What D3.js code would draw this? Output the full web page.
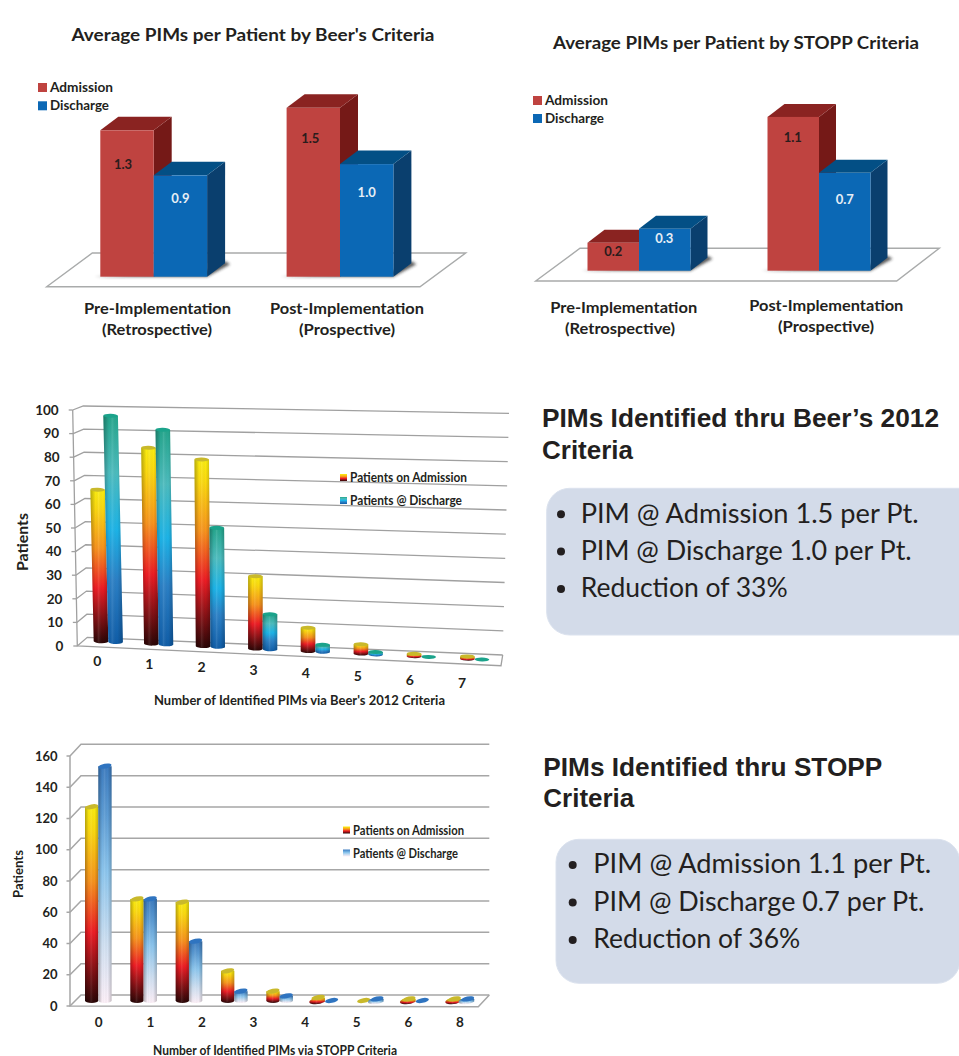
<!DOCTYPE html>
<html>
<head>
<meta charset="utf-8">
<script src="https://cdn.jsdelivr.net/npm/d3@7"></script>
<style>
html,body{margin:0;padding:0;background:#fff;overflow:hidden}
svg{display:block}
text{font-family:Lato,"Open Sans",sans-serif;fill:#231f20}
</style>
</head>
<body>
<svg id="c" width="959" height="1056"></svg>
<script>
// ---------- data ----------
const seriesNames = ["Admission", "Discharge"];
const periodLines = [["Pre-Implementation", "(Retrospective)"], ["Post-Implementation", "(Prospective)"]];

const beersAvgAdmission = [1.3, 1.5];
const beersAvgDischarge = [0.9, 1.0];
const stoppAvgAdmission = [0.2, 1.1];
const stoppAvgDischarge = [0.3, 0.7];

const beersCounts = ["0", "1", "2", "3", "4", "5", "6", "7"];
const beersAdmission = [65, 84, 80, 31, 10, 4, 1, 1];
const beersDischarge = [97, 92, 51, 15, 3, 1, 0, 0];
const beersTicks = [0, 10, 20, 30, 40, 50, 60, 70, 80, 90, 100];

const stoppGroups = [0, 1, 2, 3, 4, 5, 6, 7, 8];
const stoppAdmission = [124, 65, 63, 19, 6, 2, 0, 1, 1];
const stoppDischarge = [150, 65, 38, 6, 3, 0, 1, 0, 1];
const stoppTicks = [0, 20, 40, 60, 80, 100, 120, 140, 160];
const stoppLabels = ["0", "1", "2", "3", "4", "5", "6", "8"];

const panelBeers = ["PIM @ Admission 1.5 per Pt.", "PIM @ Discharge 1.0 per Pt.", "Reduction of 33%"];
const panelStopp = ["PIM @ Admission 1.1 per Pt.", "PIM @ Discharge 0.7 per Pt.", "Reduction of 36%"];

// ---------- helpers ----------
const svg = d3.select("#c");
const defs = svg.append("defs");
defs.append("filter").attr("id", "soft").attr("x", "-20%").attr("y", "-50%").attr("width", "140%").attr("height", "200%")
  .append("feGaussianBlur").attr("stdDeviation", 1.6);

function gradient(id, stops, horizontal) {
  const g = defs.append("linearGradient").attr("id", id)
    .attr("x1", 0).attr("y1", 0).attr("x2", horizontal ? 1 : 0).attr("y2", horizontal ? 0 : 1);
  stops.forEach(s => g.append("stop").attr("offset", s[0]).attr("stop-color", s[1]).attr("stop-opacity", s[2] === undefined ? 1 : s[2]));
}
gradient("fire", [[0, "#faed10"], [0.12, "#fbd90f"], [0.38, "#f7931d"], [0.64, "#ed1c24"], [0.82, "#8a1216"], [1, "#2a0606"]]);
gradient("teal", [[0, "#24a68c"], [0.25, "#4cbcbe"], [0.5, "#1cb4e8"], [0.72, "#2b80c6"], [1, "#0f5da8"]]);
gradient("sky", [[0, "#3d7cc0"], [0.2, "#5b9bd4"], [0.45, "#8cc6ee"], [0.75, "#cfe0f2"], [1, "#fdf0f8"]]);
gradient("round", [[0, "#000", 0.28], [0.3, "#000", 0], [0.45, "#fff", 0.1], [0.7, "#000", 0], [1, "#000", 0.22]], true);

function label(g, str, x, y, o) {
  o = o || {};
  const t = g.append("text").attr("x", x).attr("y", y).text(str)
    .attr("font-size", o.size || 12).attr("font-weight", o.weight || 700)
    .attr("text-anchor", o.anchor || "middle");
  if (o.central !== false) t.attr("dominant-baseline", "central");
  if (o.width) t.attr("textLength", o.width).attr("lengthAdjust", "spacingAndGlyphs");
  if (o.fill) t.style("fill", o.fill);
  if (o.family) t.style("font-family", o.family);
  if (o.rotate) t.attr("transform", `rotate(${o.rotate} ${x} ${y})`);
  return t;
}
const poly = pts => "M" + pts.map(p => p.join(",")).join("L") + "Z";

// ---------- flat 3-D column charts ----------
function blockChart(cfg) {
  const g = svg.append("g");
  label(g, cfg.title, cfg.titleX, cfg.titleY, {size: 16.5, width: cfg.titleW});
  const f = cfg.floor;
  g.append("path").attr("d", poly(f)).attr("fill", "#fff").attr("stroke", "#a9abab").attr("stroke-width", 1.4);

  const gx = d3.scalePoint().domain([0, 1]).range(cfg.groupX);
  const sx = d3.scaleBand().domain(seriesNames).range([-cfg.bar, cfg.bar]);
  const h = d3.scaleLinear().domain([0, 1]).range([0, cfg.unit]);
  const [dx, dy] = cfg.depth;

  [0, 1].forEach(i => {
    const x0 = gx(i) - cfg.bar, x1 = gx(i) + cfg.bar, b = cfg.base;
    g.append("path").attr("filter", "url(#soft)").attr("fill", "#222").attr("opacity", 0.75)
      .attr("d", poly([[x0 - 6, b], [x1, b], [x1 + dx + 5, b + dy + 1], [x1 + dx, b + dy - 2], [x1, b - 6]]));
  });

  [0, 1].forEach(i => {
    seriesNames.forEach((s, k) => {
      const v = cfg.values[k][i];
      const x = gx(i) + sx(s), w = sx.bandwidth(), top = cfg.base - h(v), base = cfg.base;
      const c = k ? {f: "#0b68b5", t: "#034f85", s: "#0a3f6e"} : {f: "#bf4340", t: "#8a2321", s: "#751917"};
      g.append("path").attr("fill", c.s).attr("d", poly([[x + w, top], [x + w + dx, top + dy], [x + w + dx, base + dy], [x + w, base]]));
      g.append("path").attr("fill", c.t).attr("d", poly([[x, top], [x + dx, top + dy], [x + w + dx, top + dy], [x + w, top]]));
      g.append("rect").attr("x", x).attr("y", top).attr("width", w).attr("height", h(v)).attr("fill", c.f);
      label(g, d3.format(".1f")(v), x + w / 2 + cfg.nudgeX[i][k], top + cfg.drop[i][k],
        {size: 13, fill: k ? "#e6eef6" : "#2a1c1c"});
    });
  });

  seriesNames.forEach((s, k) => {
    const [lx, ly] = cfg.legend;
    g.append("rect").attr("x", lx).attr("y", ly + k * cfg.legendStep).attr("width", 9).attr("height", 9)
      .attr("fill", k ? "#0b68b5" : "#bf4340");
    label(g, s, lx + 12, ly + 4.5 + k * cfg.legendStep, {anchor: "start", size: 12.5, width: k ? 59 : 63});
  });

  periodLines.forEach((lines, i) => lines.forEach((t, j) => {
    label(g, t, cfg.catX[i][j], cfg.catY[i][j], {size: 15, width: cfg.catW[i][j]});
  }));
}

blockChart({
  title: "Average PIMs per Patient by Beer's Criteria", titleX: 253, titleY: 35, titleW: 363,
  floor: [[46.7, 286.7], [420, 286.7], [465.7, 253], [92.3, 253]],
  groupX: [153.7, 340], bar: 53.4, unit: 112.6, base: 276.7, depth: [18, -13.5],
  values: [beersAvgAdmission, beersAvgDischarge],
  nudgeX: [[-4, 0], [-3, 0]], drop: [[34, 23], [30, 28]],
  legend: [38, 83], legendStep: 18.3,
  catX: [[157.5, 157], [347, 347]], catY: [[308, 329.3], [308, 329.3]], catW: [[147, 110], [154, 96]]
});
blockChart({
  title: "Average PIMs per Patient by STOPP Criteria", titleX: 736, titleY: 43.3, titleW: 366,
  floor: [[535.7, 281], [896.7, 281], [939.3, 248.3], [580, 248.3]],
  groupX: [639, 819], bar: 51.5, unit: 139.8, base: 270.7, depth: [17, -13],
  values: [stoppAvgAdmission, stoppAvgDischarge],
  nudgeX: [[0, -0.5], [-0.5, 0]], drop: [[8, 9], [20, 26]],
  legend: [533, 96], legendStep: 18,
  catX: [[623.7, 620], [826.3, 826]], catY: [[306.7, 327.7], [305, 326]], catW: [[147, 110], [154, 96]]
});

// ---------- cylinder charts ----------
function cylinders(g, cfg) {
  const sx = d3.scaleBand().domain(seriesNames).range([-cfg.bar, cfg.bar]);
  const rx = cfg.bar / 2;
  cfg.groups.forEach((grp, i) => {
    seriesNames.forEach((s, k) => {
      const v = cfg.values[k][i];
      const bx = cfg.x(grp) + sx(s) + rx;
      const by = cfg.floorY(bx);
      const hh = cfg.h(v);
      const tx = bx - cfg.lean(grp) * hh, ty = by - hh;
      if (v > 0) {
        // short stubs keep the disc's tilt at the foot, tall columns stand flat
        const footTilt = hh < 4 ? cfg.tilt : cfg.footTilt;
        const rad = footTilt * Math.PI / 180;
        const ex = rx * Math.cos(rad), ey = rx * Math.sin(rad);
        const d = `M${tx - rx},${ty}L${bx - ex},${by + (hh < 4 ? -ey : 0) * -1}A${rx},${cfg.ry} ${footTilt} 0 0 ${bx + ex},${by - ey}L${tx + rx},${ty}Z`;
        g.append("path").attr("d", d).attr("fill", `url(#${k ? cfg.blue : "fire"})`);
        g.append("path").attr("d", d).attr("fill", "url(#round)");
      }
      g.append("ellipse").attr("rx", rx).attr("ry", cfg.ry)
        .attr("transform", `translate(${tx},${ty}) rotate(${cfg.tilt})`)
        .attr("fill", k ? cfg.capBlue : "#c9b92b");
    });
  });
}
function frame(g, cfg) {
  const color = cfg.grid;
  const front = d3.scaleLinear().domain(cfg.domain).range(cfg.frontY);
  const frontX = d3.scaleLinear().domain(cfg.domain).range(cfg.frontX);
  const backL = d3.scaleLinear().domain(cfg.domain).range(cfg.backLY);
  const backLX = d3.scaleLinear().domain(cfg.domain).range(cfg.backX);
  const backR = d3.scaleLinear().domain(cfg.domain).range(cfg.backRY);
  const backRX = d3.scaleLinear().domain(cfg.domain).range(cfg.rightX);
  g.selectAll(".grid").data(cfg.ticks).join("path").attr("fill", "none").attr("stroke", color).attr("stroke-width", cfg.sw)
    .attr("d", v => d3.line()([[frontX(v), front(v)], [backLX(v), backL(v)], [backRX(v), backR(v)]]));
  const d0 = cfg.domain[0], d1 = cfg.domain[1];
  g.append("path").attr("fill", "none").attr("stroke", color).attr("stroke-width", cfg.sw)
    .attr("d", d3.line()([[frontX(d1), front(d1)], [frontX(d0), front(d0)], cfg.floorFront, [backRX(d0), backR(d0)]]));

  const axis = g.append("g").call(d3.axisLeft(front).tickValues(cfg.ticks).tickSize(cfg.tickLen).tickPadding(cfg.pad));
  axis.select(".domain").remove();
  axis.selectAll(".tick").attr("transform", v => `translate(${frontX(v)},${front(v)})`);
  axis.selectAll(".tick line").attr("stroke", color).attr("stroke-width", cfg.sw);
  axis.selectAll(".tick text").attr("font-family", null).attr("font-size", cfg.tickSize).attr("font-weight", 700)
    .attr("dy", "0.36em").style("fill", "#231f20");
}
function legend3(g, cfg) {
  cfg.items.forEach((it, k) => {
    const y = cfg.y[k];
    g.append("rect").attr("x", cfg.x).attr("y", y - 3.5).attr("width", 7).attr("height", 7).attr("fill", `url(#${it.fill})`);
    label(g, it.text, cfg.x + 10, y, {anchor: "start", size: cfg.size, width: it.width});
  });
}
function xLabels(g, labels, range, yRange, size) {
  const x = d3.scalePoint().domain(labels).range(range);
  const y = d3.scaleLinear().domain(range).range(yRange);
  const axis = g.append("g").call(d3.axisBottom(x).tickSize(0).tickPadding(0));
  axis.select(".domain").remove();
  axis.selectAll(".tick").attr("transform", d => `translate(${x(d)},${y(x(d))})`);
  axis.selectAll(".tick text").attr("y", 0).attr("dy", "0.36em").attr("font-family", null)
    .attr("font-size", size).attr("font-weight", 700).style("fill", "#231f20");
}

// Beer's cylinders
{
  const g = svg.append("g");
  frame(g, {
    domain: [0, 100], ticks: beersTicks, grid: "#a0a0a0", sw: 1.3,
    frontY: [646, 410], frontX: [77.3, 72.7], backLY: [637.3, 406], backX: [87.3, 83.3],
    backRY: [655, 413.3], rightX: [502.7, 509], floorFront: [501, 665.7],
    tickLen: 4, pad: 10, tickSize: 13.5
  });
  const idx = beersCounts.map((d, i) => i);
  cylinders(g, {
    groups: idx, values: [beersAdmission, beersDischarge], bar: 14.6, ry: 2, tilt: 1.5, footTilt: 1.5,
    x: d3.scalePow().exponent(1.02).domain([0, 7]).range([108.3, 474.7]),
    floorY: d3.scaleLinear().domain([101, 466.7]).range([641.3, 658.7]),
    h: d3.scaleLinear().domain([0, 100]).range([0, 233.3]),
    lean: d3.scaleLinear().domain([0, 3]).range([0.022, 0]).clamp(true),
    blue: "teal", capBlue: "#1ba38b"
  });
  xLabels(g, beersCounts, [97.3, 462], [660.7, 682.7], 14);
  label(g, "Number of Identified PIMs via Beer's 2012 Criteria", 299.5, 700, {size: 12.5, width: 291});
  label(g, "Patients", 21, 542, {size: 16, width: 58, rotate: -90});
  legend3(g, {x: 340, y: [477.5, 500.5], size: 12.5, items: [
    {fill: "fire", text: "Patients on Admission", width: 117},
    {fill: "teal", text: "Patients @ Discharge", width: 112}]});
}

// STOPP cylinders
{
  const g = svg.append("g");
  frame(g, {
    domain: [0, 160], ticks: stoppTicks, grid: "#a6a6a6", sw: 1.5,
    frontY: [1006, 756], frontX: [70, 70], backLY: [995, 744.3], backX: [81, 81],
    backRY: [995, 744.3], rightX: [489.3, 489.3], floorFront: [478.3, 1006.7],
    tickLen: 3.5, pad: 9, tickSize: 13
  });
  cylinders(g, {
    groups: stoppGroups, values: [stoppAdmission, stoppDischarge], bar: 13.3, ry: 2.4, tilt: -11, footTilt: 0,
    x: d3.scalePoint().domain(stoppGroups).range([98.3, 461]),
    floorY: () => 1000.5,
    h: d3.scaleLinear().domain([0, 160]).range([0, 250]),
    lean: () => 0,
    blue: "sky", capBlue: "#2f74c0"
  });
  xLabels(g, stoppLabels, [98.7, 460], [1021.7, 1021.7], 13.5);
  label(g, "Number of Identified PIMs via STOPP Criteria", 275, 1050, {size: 12.5, width: 244});
  label(g, "Patients", 18, 874, {size: 13, width: 48, rotate: -90});
  legend3(g, {x: 343, y: [830, 853], size: 12.5, items: [
    {fill: "fire", text: "Patients on Admission", width: 111},
    {fill: "sky", text: "Patients @ Discharge", width: 105}]});
}

// ---------- right-hand text panels ----------
function panel(cfg) {
  const g = svg.append("g");
  cfg.title.forEach((t, i) => {
    label(g, t.text, cfg.titleX, cfg.titleY[i], {anchor: "start", size: 25, central: false,
      family: '"Liberation Sans", Arial, sans-serif', width: t.width});
  });
  g.append("rect").attr("x", cfg.box[0]).attr("y", cfg.box[1]).attr("width", cfg.box[2]).attr("height", cfg.box[3])
    .attr("rx", 23).attr("fill", "#d3dbe9").attr("stroke", "#dbe2ee").attr("stroke-width", 1);
  cfg.lines.forEach((t, i) => {
    g.append("circle").attr("cx", cfg.bulletX).attr("cy", cfg.lineY[i] - 8.4).attr("r", 4).attr("fill", "#231f20");
    label(g, t, cfg.textX, cfg.lineY[i], {anchor: "start", size: 26, weight: 400, central: false, width: cfg.widths[i]});
  });
}
panel({
  title: [{text: "PIMs Identified thru Beer\u2019s 2012", width: 397}, {text: "Criteria", width: 91}],
  titleX: 542, titleY: [427, 459],
  box: [546.7, 488.3, 440, 146.7],
  bulletX: 561, textX: 580.7, lineY: [522.7, 560, 597.3], lines: panelBeers, widths: [338, 331, 207]
});
panel({
  title: [{text: "PIMs Identified thru STOPP", width: 339}, {text: "Criteria", width: 91}],
  titleX: 543.3, titleY: [775.7, 807.3],
  box: [556, 839.3, 404, 144],
  bulletX: 572.7, textX: 593.3, lineY: [873.3, 911, 948.3], lines: panelStopp, widths: [338, 331, 207]
});
</script>
</body>
</html>
